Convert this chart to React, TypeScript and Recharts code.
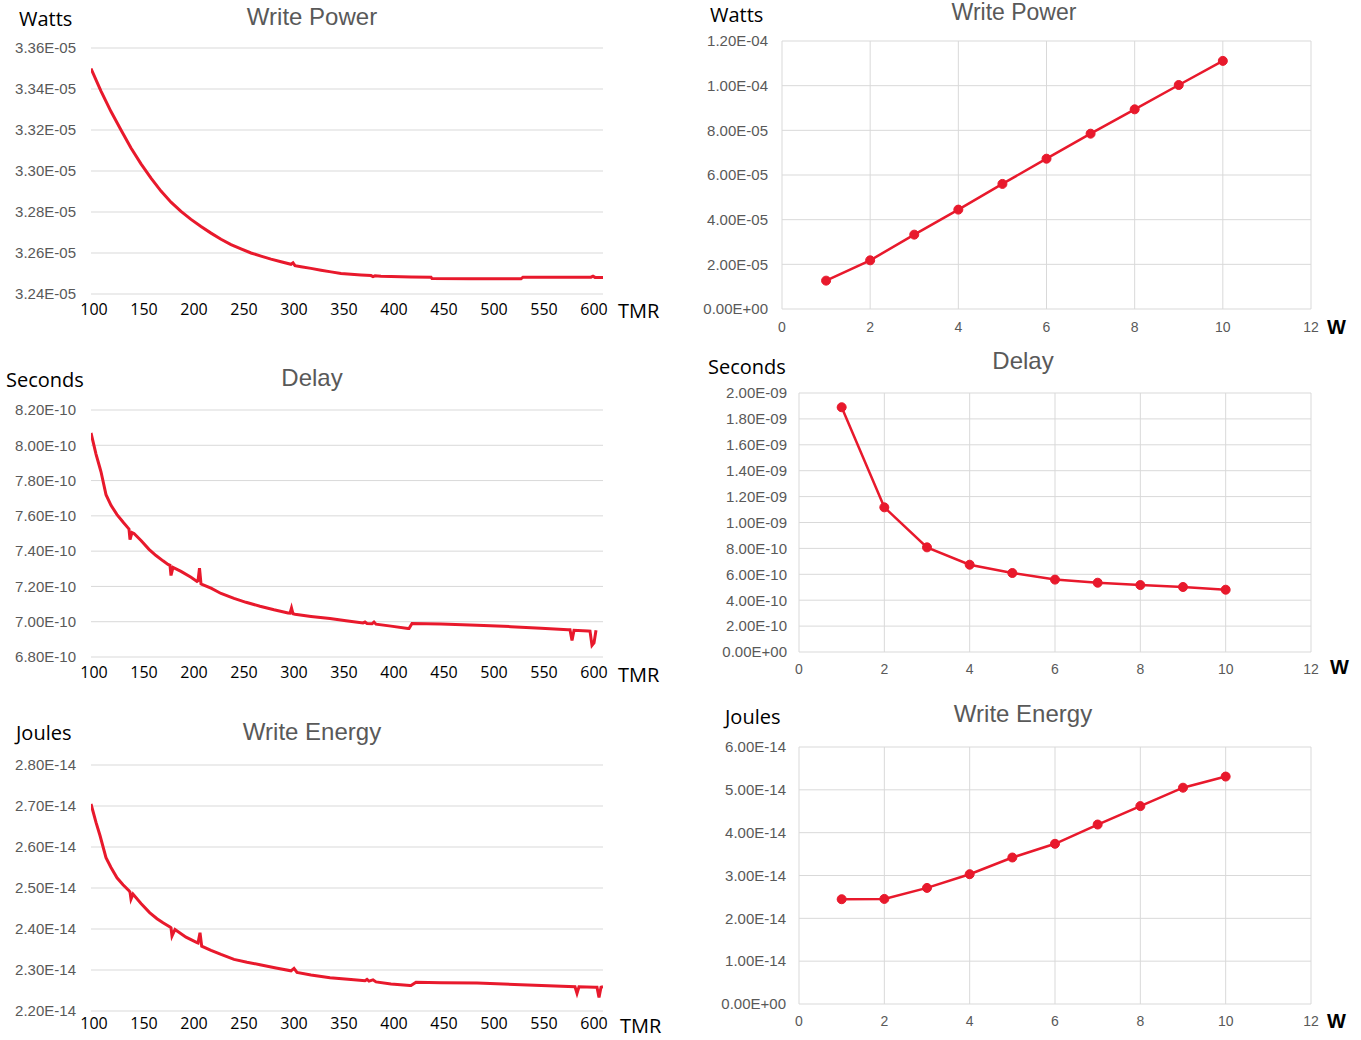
import React from 'react';
import { LineChart, Line, XAxis, YAxis, CartesianGrid } from 'recharts';

// ---- TMR sweep (left column) ----
const powerTmr = [100, 105, 110, 115, 120, 125, 130, 140, 150, 160, 170, 180, 190, 200, 210, 220, 230, 240, 250, 260, 270, 280, 290, 300, 302, 304, 310, 320, 330, 340, 350, 360, 370, 380, 382, 384, 390, 400, 420, 440, 441, 480, 530, 532, 570, 600, 602, 604, 612];
const powerWatts = [3.35e-5, 3.3445e-5, 3.339e-5, 3.334e-5, 3.329e-5, 3.3245e-5, 3.32e-5, 3.3112e-5, 3.3035e-5, 3.2965e-5, 3.2902e-5, 3.2848e-5, 3.2803e-5, 3.2764e-5, 3.2729e-5, 3.2697e-5, 3.2667e-5, 3.2641e-5, 3.262e-5, 3.26e-5, 3.2585e-5, 3.257e-5, 3.2557e-5, 3.2545e-5, 3.2552e-5, 3.2538e-5, 3.2533e-5, 3.2525e-5, 3.2516e-5, 3.2508e-5, 3.25e-5, 3.2496e-5, 3.2493e-5, 3.249e-5, 3.2485e-5, 3.2489e-5, 3.2487e-5, 3.2485e-5, 3.2483e-5, 3.2482e-5, 3.2475e-5, 3.2474e-5, 3.2474e-5, 3.2482e-5, 3.2482e-5, 3.2482e-5, 3.2487e-5, 3.2481e-5, 3.2481e-5];

const delayTmr = [100, 105, 109, 110, 115, 120, 126, 132, 137, 138, 139, 141, 143, 150, 158, 165, 172, 177, 179, 180, 182, 190, 200, 206, 207, 208.5, 210, 211, 220, 230, 243, 255, 269, 283, 297, 299, 300.5, 302, 304, 320, 339, 355, 372, 374, 376, 381, 383, 385, 400, 417, 418, 421, 450, 486, 520, 550, 577, 579, 581, 583, 597, 599, 601, 603, 605];
const delaySeconds = [8.07e-10, 7.95e-10, 7.87e-10, 7.85e-10, 7.72e-10, 7.66e-10, 7.607e-10, 7.565e-10, 7.532e-10, 7.525e-10, 7.465e-10, 7.505e-10, 7.5e-10, 7.46e-10, 7.41e-10, 7.375e-10, 7.345e-10, 7.325e-10, 7.32e-10, 7.262e-10, 7.308e-10, 7.285e-10, 7.252e-10, 7.228e-10, 7.232e-10, 7.303e-10, 7.215e-10, 7.212e-10, 7.19e-10, 7.16e-10, 7.132e-10, 7.11e-10, 7.088e-10, 7.068e-10, 7.05e-10, 7.049e-10, 7.078e-10, 7.045e-10, 7.042e-10, 7.03e-10, 7.018e-10, 7.005e-10, 6.993e-10, 6.998e-10, 6.99e-10, 6.988e-10, 6.998e-10, 6.986e-10, 6.975e-10, 6.962e-10, 6.962e-10, 6.99e-10, 6.987e-10, 6.98e-10, 6.972e-10, 6.963e-10, 6.955e-10, 6.955e-10, 6.894e-10, 6.951e-10, 6.948e-10, 6.947e-10, 6.866e-10, 6.88e-10, 6.951e-10];

const energyTmr = [100, 105, 109, 115, 120, 126, 132, 138, 139, 140, 142, 150, 158.6, 166, 172, 179, 180, 181, 184, 195, 206, 207, 209, 210.7, 220, 230, 243, 256, 269, 285, 300, 303, 306, 320, 339, 360, 374, 376, 378, 382, 385, 400, 419, 420, 425, 450, 486, 530, 584, 586, 588, 604, 606, 608, 610, 612];
const energyJoules = [2.705e-14, 2.66e-14, 2.628e-14, 2.574e-14, 2.55e-14, 2.525e-14, 2.508e-14, 2.4935e-14, 2.49e-14, 2.473e-14, 2.485e-14, 2.462e-14, 2.44e-14, 2.425e-14, 2.415e-14, 2.405e-14, 2.403e-14, 2.383e-14, 2.399e-14, 2.38e-14, 2.367e-14, 2.366e-14, 2.391e-14, 2.358e-14, 2.348e-14, 2.338e-14, 2.326e-14, 2.319e-14, 2.313e-14, 2.305e-14, 2.298e-14, 2.304e-14, 2.294e-14, 2.288e-14, 2.281e-14, 2.277e-14, 2.274e-14, 2.277e-14, 2.273e-14, 2.276e-14, 2.271e-14, 2.266e-14, 2.262e-14, 2.262e-14, 2.27e-14, 2.269e-14, 2.268e-14, 2.264e-14, 2.259e-14, 2.243e-14, 2.259e-14, 2.258e-14, 2.258e-14, 2.233e-14, 2.258e-14, 2.259e-14];

const tmrTicks = [100, 150, 200, 250, 300, 350, 400, 450, 500, 550, 600];
const powerTicks = [3.24e-5, 3.26e-5, 3.28e-5, 3.3e-5, 3.32e-5, 3.34e-5, 3.36e-5];
const delayTicks = [6.8e-10, 7.0e-10, 7.2e-10, 7.4e-10, 7.6e-10, 7.8e-10, 8.0e-10, 8.2e-10];
const energyTicks = [2.2e-14, 2.3e-14, 2.4e-14, 2.5e-14, 2.6e-14, 2.7e-14, 2.8e-14];

// ---- W sweep (right column) ----
const wValues = [1, 2, 3, 4, 5, 6, 7, 8, 9, 10];
const wPower = [1.27e-5, 2.18e-5, 3.33e-5, 4.45e-5, 5.6e-5, 6.73e-5, 7.85e-5, 8.94e-5, 1.003e-4, 1.111e-4];
const wDelay = [1.89e-9, 1.117e-9, 8.08e-10, 6.74e-10, 6.1e-10, 5.59e-10, 5.35e-10, 5.17e-10, 5.02e-10, 4.81e-10];
const wEnergy = [2.446e-14, 2.453e-14, 2.71e-14, 3.03e-14, 3.42e-14, 3.74e-14, 4.19e-14, 4.62e-14, 5.05e-14, 5.31e-14];

const wTicks = [0, 2, 4, 6, 8, 10, 12];
const wPowerTicks = [0, 2e-5, 4e-5, 6e-5, 8e-5, 1e-4, 1.2e-4];
const wDelayTicks = [0, 2e-10, 4e-10, 6e-10, 8e-10, 1e-9, 1.2e-9, 1.4e-9, 1.6e-9, 1.8e-9, 2e-9];
const wEnergyTicks = [0, 1e-14, 2e-14, 3e-14, 4e-14, 5e-14, 6e-14];

const RED = '#E8192C';
const GRID = '#D9D9D9';
const GREY_TEXT = '#595959';
const ARIAL = "'Liberation Sans', Arial, sans-serif";
const LABEL_FONT = "'Open Sans', sans-serif";

function sci(v: number) {
  const [m, e] = v.toExponential(2).split('e');
  const n = parseInt(e, 10);
  return `${m}E${n < 0 ? '-' : '+'}${String(Math.abs(n)).padStart(2, '0')}`;
}

type Box = { l: number; t: number; r: number; b: number };

function Panel({
  originX,
  box,
  xs,
  ys,
  xDomain,
  xTicks,
  yTicks,
  yGap,
  xGap,
  right,
}: {
  originX: number;
  box: Box;
  xs: number[];
  ys: number[];
  xDomain: [number, number];
  xTicks: number[];
  yTicks: number[];
  yGap: number;
  xGap: number;
  right?: boolean;
}) {
  const data = xs.map((x, i) => ({ x, y: ys[i] }));
  const top = box.t - 20;
  const width = box.r - originX + 20;
  const height = box.b - top + 35;
  return (
    <div style={{ position: 'absolute', left: originX, top }}>
      <LineChart
        width={width}
        height={height}
        data={data}
        margin={{ top: 20, right: 20, bottom: 5, left: 0 }}
      >
        <CartesianGrid stroke={GRID} strokeWidth={1} vertical={!!right} />
        <XAxis
          dataKey='x'
          type='number'
          domain={xDomain}
          ticks={xTicks}
          allowDataOverflow
          axisLine={false}
          tickLine={false}
          height={30}
          tickMargin={xGap}
          interval={0}
          tick={
            right
              ? { fill: GREY_TEXT, fontSize: 14, fontFamily: ARIAL }
              : { fill: '#000', fontSize: 16, fontFamily: LABEL_FONT, dx: 3 }
          }
        />
        <YAxis
          type='number'
          domain={[yTicks[0], yTicks[yTicks.length - 1]]}
          ticks={yTicks}
          allowDataOverflow
          axisLine={false}
          tickLine={false}
          width={box.l - originX}
          tickMargin={yGap}
          interval={0}
          tickFormatter={sci}
          tick={{ fill: GREY_TEXT, fontSize: 15, fontFamily: ARIAL }}
        />
        <Line
          type='linear'
          dataKey='y'
          stroke={RED}
          strokeWidth={right ? 2.5 : 3}
          dot={right ? { r: 4.5, fill: RED, stroke: RED, strokeWidth: 1 } : false}
          isAnimationActive={false}
        />
      </LineChart>
    </div>
  );
}

function Txt({
  x,
  y,
  children,
  size,
  color = '#000',
  font = LABEL_FONT,
  center,
  bold,
}: {
  x: number;
  y: number;
  children: React.ReactNode;
  size: number;
  color?: string;
  font?: string;
  center?: boolean;
  bold?: boolean;
}) {
  return (
    <div
      style={{
        position: 'absolute',
        left: x,
        top: y,
        transform: center ? 'translate(-50%, -50%)' : 'translateY(-50%)',
        fontFamily: font,
        fontSize: size,
        lineHeight: 1,
        color,
        fontWeight: bold ? 700 : 400,
        whiteSpace: 'nowrap',
      }}
    >
      {children}
    </div>
  );
}

export default function App() {
  return (
    <div style={{ position: 'absolute', left: 0, top: 0, width: 1361, height: 1040, background: '#fff', overflow: 'hidden' }}>
      {/* left column: TMR sweep */}
      <Panel originX={0} box={{ l: 91, t: 48, r: 603, b: 294 }} xs={powerTmr} ys={powerWatts}
        xDomain={[100, 612]} xTicks={tmrTicks} yTicks={powerTicks} yGap={9} xGap={4} />
      <Panel originX={0} box={{ l: 91, t: 410, r: 603, b: 657 }} xs={delayTmr} ys={delaySeconds}
        xDomain={[100, 612]} xTicks={tmrTicks} yTicks={delayTicks} yGap={9} xGap={4} />
      <Panel originX={0} box={{ l: 91, t: 765, r: 603, b: 1011 }} xs={energyTmr} ys={energyJoules}
        xDomain={[100, 612]} xTicks={tmrTicks} yTicks={energyTicks} yGap={9} xGap={1} />

      {/* right column: W sweep */}
      <Panel originX={680} box={{ l: 782, t: 41, r: 1311, b: 309 }} xs={wValues} ys={wPower}
        xDomain={[0, 12]} xTicks={wTicks} yTicks={wPowerTicks} yGap={8} xGap={7} right />
      <Panel originX={680} box={{ l: 799, t: 393, r: 1311, b: 652 }} xs={wValues} ys={wDelay}
        xDomain={[0, 12]} xTicks={wTicks} yTicks={wDelayTicks} yGap={6} xGap={6} right />
      <Panel originX={680} box={{ l: 799, t: 747, r: 1311, b: 1004 }} xs={wValues} ys={wEnergy}
        xDomain={[0, 12]} xTicks={wTicks} yTicks={wEnergyTicks} yGap={7} xGap={6} right />

      {/* titles */}
      <Txt x={312} y={17} size={24} color={GREY_TEXT} font={ARIAL} center>Write Power</Txt>
      <Txt x={312} y={378} size={24} color={GREY_TEXT} font={ARIAL} center>Delay</Txt>
      <Txt x={312} y={732} size={24} color={GREY_TEXT} font={ARIAL} center>Write Energy</Txt>
      <Txt x={1014} y={12} size={23} color={GREY_TEXT} font={ARIAL} center>Write Power</Txt>
      <Txt x={1023} y={361} size={24} color={GREY_TEXT} font={ARIAL} center>Delay</Txt>
      <Txt x={1023} y={714} size={24} color={GREY_TEXT} font={ARIAL} center>Write Energy</Txt>

      {/* unit labels */}
      <Txt x={19} y={19} size={20}>Watts</Txt>
      <Txt x={6} y={380} size={20}>Seconds</Txt>
      <Txt x={16} y={733} size={20}>Joules</Txt>
      <Txt x={710} y={15} size={20}>Watts</Txt>
      <Txt x={708} y={367} size={20}>Seconds</Txt>
      <Txt x={725} y={717} size={20}>Joules</Txt>

      {/* x axis names */}
      <Txt x={618} y={311} size={20}>TMR</Txt>
      <Txt x={618} y={675} size={20}>TMR</Txt>
      <Txt x={620} y={1026} size={20}>TMR</Txt>
      <Txt x={1327} y={327} size={20} font={ARIAL} bold>W</Txt>
      <Txt x={1330} y={667} size={20} font={ARIAL} bold>W</Txt>
      <Txt x={1327} y={1021} size={20} font={ARIAL} bold>W</Txt>
    </div>
  );
}
